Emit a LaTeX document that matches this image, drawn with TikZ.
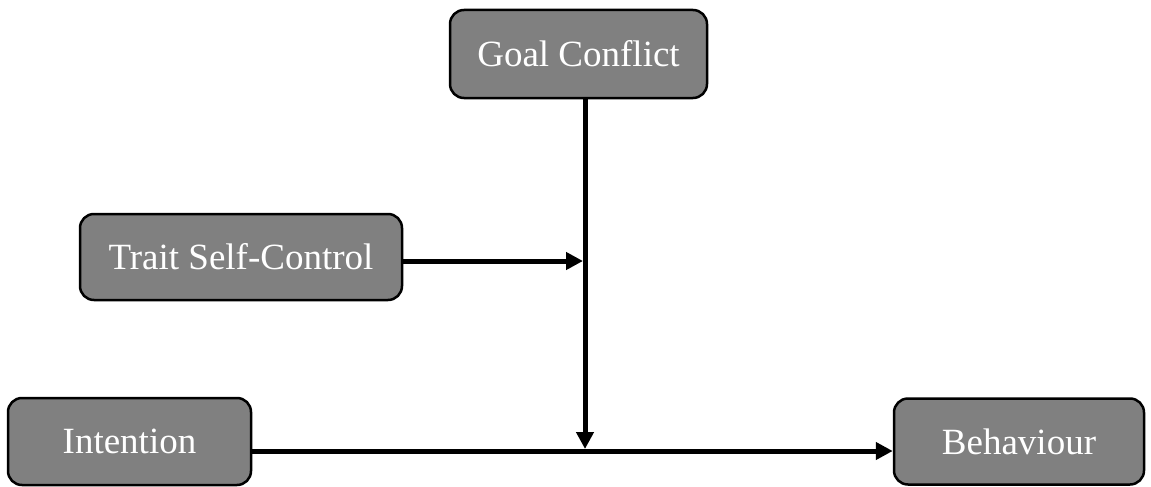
\documentclass[tikz,border=0pt]{standalone}
\usepackage{fontspec}
\setmainfont{Liberation Serif}
\usetikzlibrary{arrows.meta}
\begin{document}
\begin{tikzpicture}[x=1pt,y=-1pt,
  box/.style={draw=black, line width=2.5pt, fill={rgb,255:red,128;green,128;blue,128}, rounded corners=14pt,
    text=white, font=\fontsize{37}{44}\selectfont, inner sep=0pt, align=center},
  conn/.style={line width=5pt, -{Triangle[length=17pt,width=17pt]}}]
\useasboundingbox (0,0) rectangle (1151,487);
\node[box, minimum width=257pt, minimum height=88pt] (goal) at (578.5,54) {Goal Conflict};
\node[box, minimum width=322pt, minimum height=86pt] (trait) at (241,257) {Trait Self-Control};
\node[box, minimum width=243pt, minimum height=87pt] (int) at (129.5,441.5) {Intention};
\node[box, minimum width=250pt, minimum height=86pt] (beh) at (1019,441.5) {Behaviour};
\coordinate (j1) at (583,261);
\coordinate (j2) at (585,449);
\coordinate (h) at (0,451);
\draw[conn] (goal.south -| j2) -- (j2);
\draw[conn] (trait.east |- j1) -- (j1);
\draw[conn] (int.east |- h) -- (beh.west |- h);
\end{tikzpicture}
\end{document}
